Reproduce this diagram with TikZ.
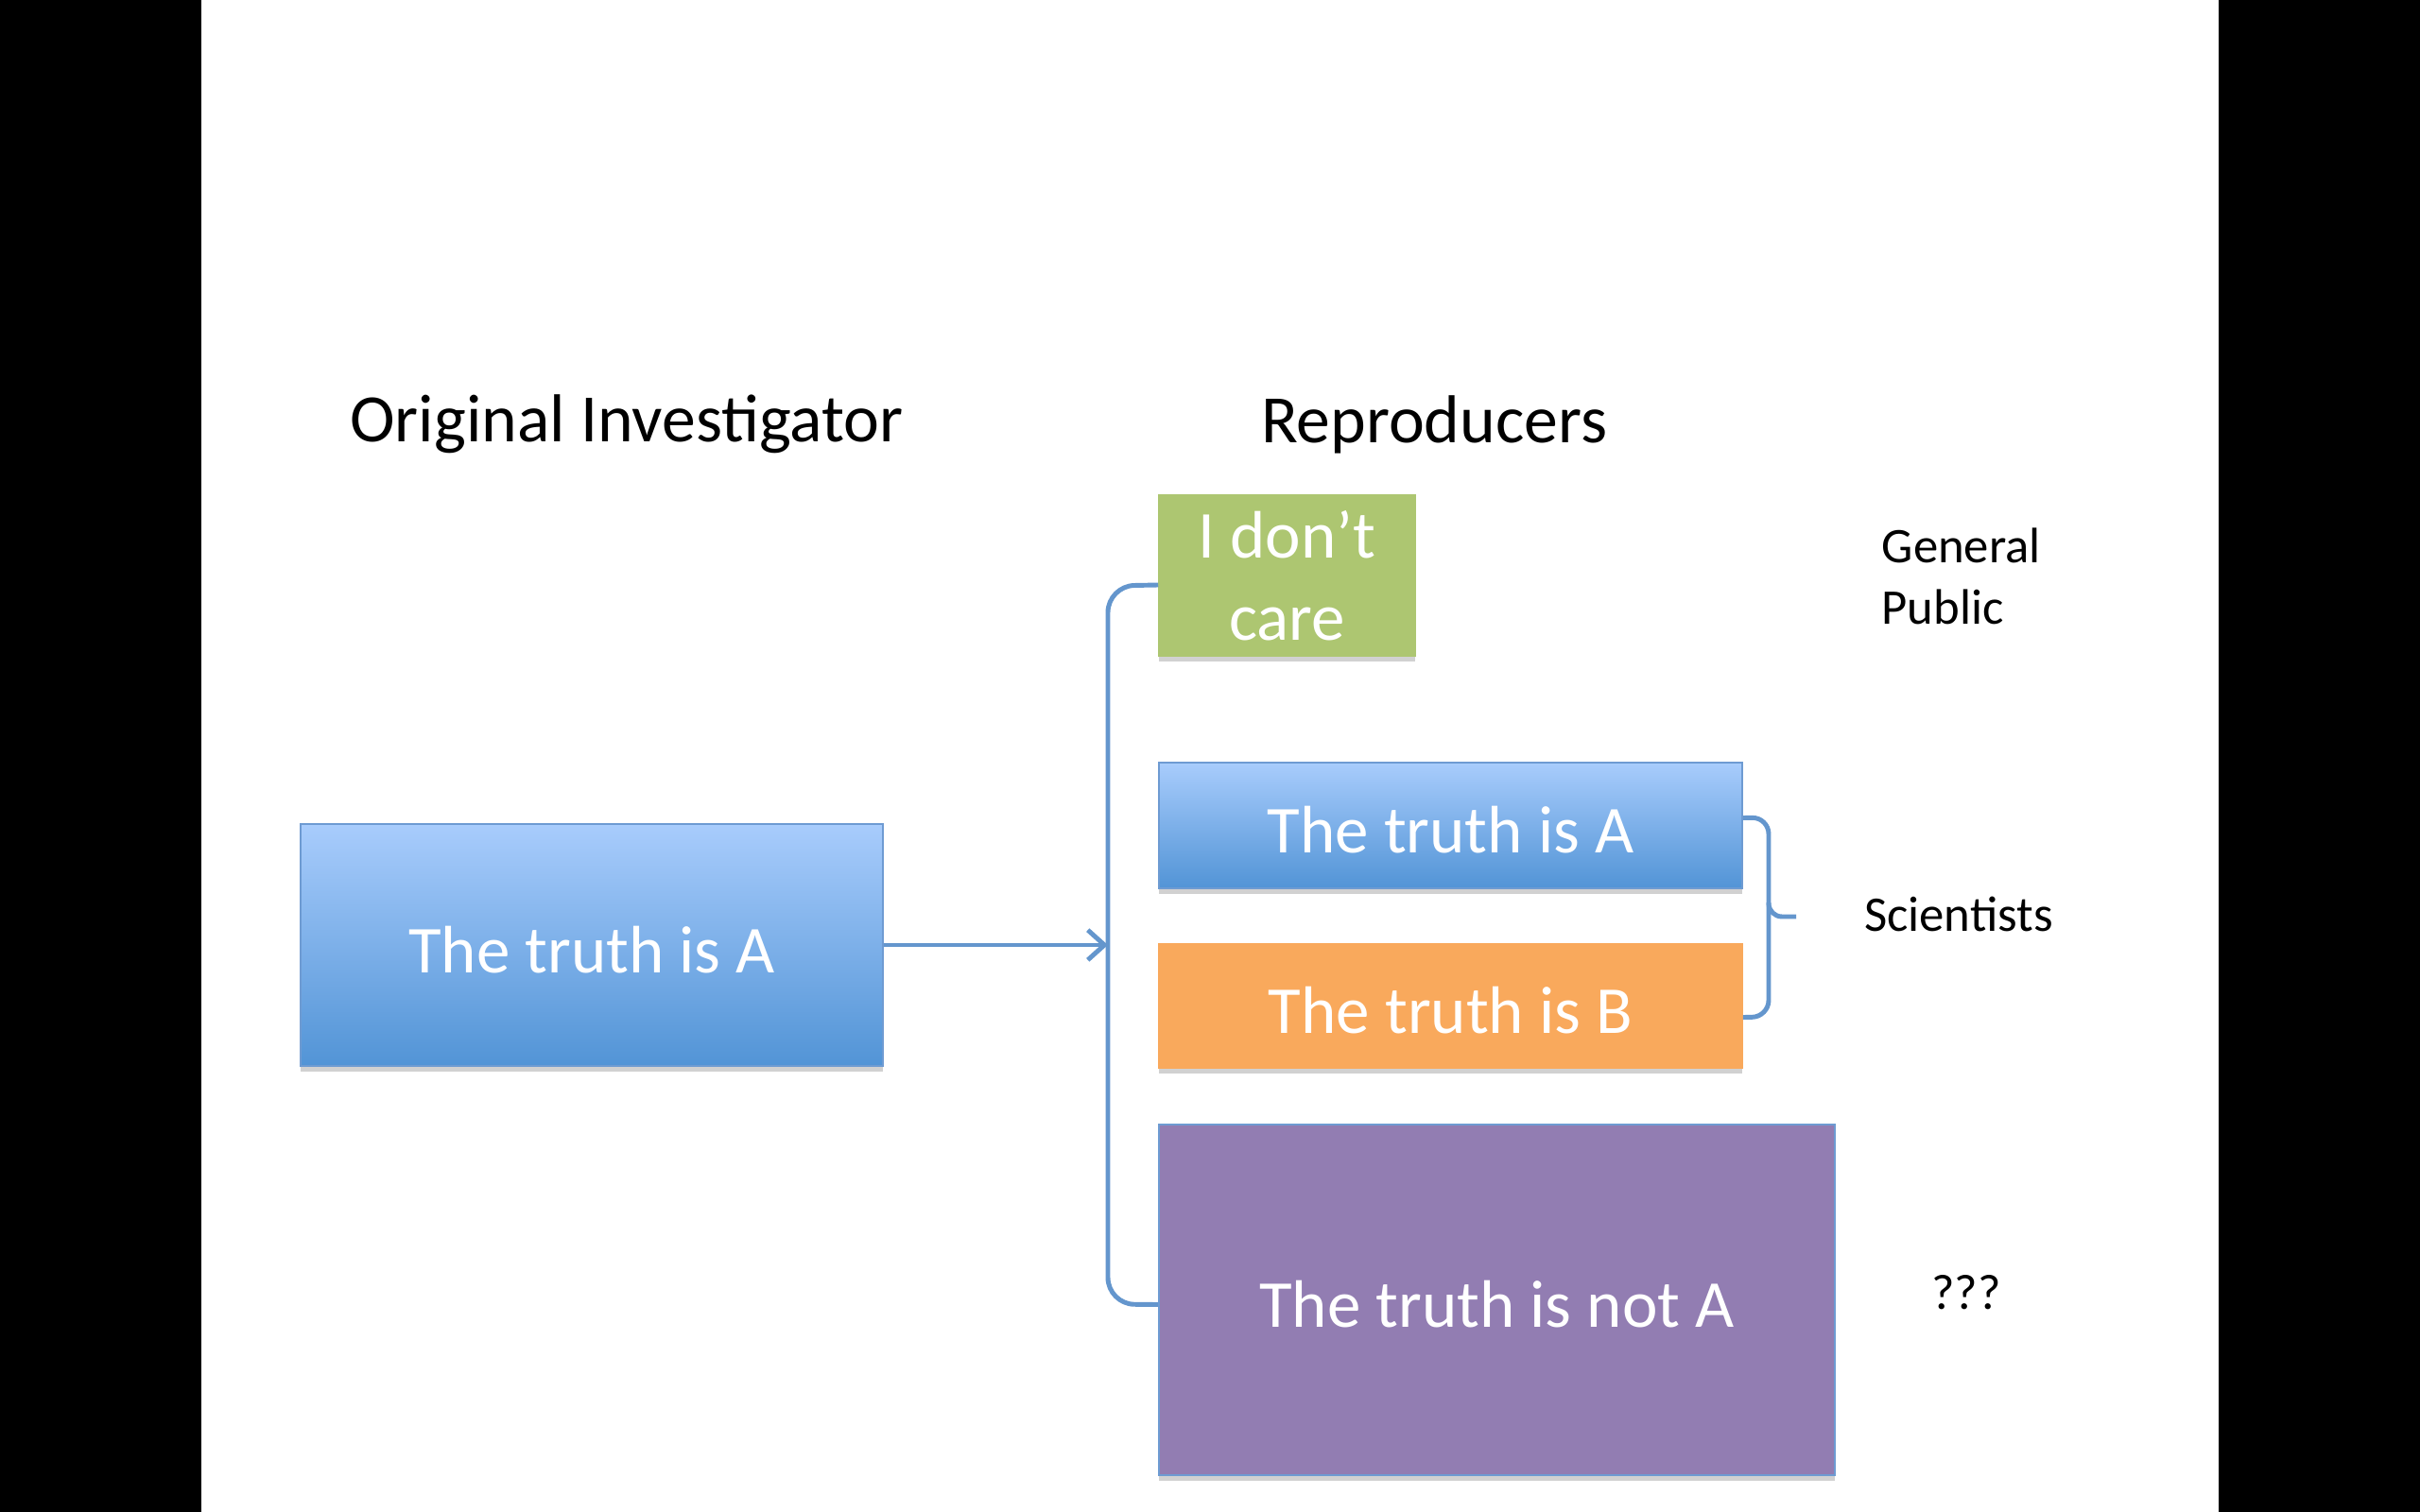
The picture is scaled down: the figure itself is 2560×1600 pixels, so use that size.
\documentclass[tikz,border=0pt]{standalone}
\usepackage{fontspec}
\setmainfont{Carlito}
\usetikzlibrary{arrows.meta,shadows,calc}
\definecolor{bluetop}{RGB}{168,204,252}
\definecolor{bluebot}{RGB}{82,148,214}
\definecolor{blueedge}{RGB}{110,155,210}
\definecolor{conncol}{RGB}{100,150,205}
\definecolor{greenfill}{RGB}{173,198,113}
\definecolor{orangefill}{RGB}{249,169,92}
\definecolor{purplefill}{RGB}{146,125,178}
\tikzset{
  boxbase/.style={rectangle, inner sep=0pt, text=white, align=center,
    font=\fontsize{20.2}{24.6}\selectfont,
    drop shadow={shadow xshift=0pt, shadow yshift=-1.6pt, opacity=0.18, fill=black}},
  oneline/.style={text height=18pt, text depth=1.4pt},
  bluebox/.style={boxbase, top color=bluetop, bottom color=bluebot, draw=blueedge, line width=0.5pt},
  greenbox/.style={boxbase, fill=greenfill, draw=greenfill},
  orangebox/.style={boxbase, fill=orangefill, draw=orangefill},
  purplebox/.style={boxbase, fill=purplefill, draw=blueedge, line width=0.5pt},
  heading/.style={font=\fontsize{20.4}{24.6}\selectfont, text=black, inner sep=0pt},
  sidelabel/.style={font=\fontsize{15}{18.3}\selectfont, text=black, inner sep=0pt, align=left},
  conn/.style={draw=conncol, line width=1.4pt},
}
\begin{document}
\begin{tikzpicture}[x=0.01cm, y=-0.01cm]
\fill[black] (0,0) rectangle (2560,1600);
\fill[white] (213,0) rectangle (2347,1600);
\useasboundingbox (0,0) rectangle (2560,1600);

\node[heading] (hOI) at (663,449) {Original Investigator};
\node[heading] (hRP) at (1517,449) {Reproducers};

\node[bluebox, oneline, minimum width=6.16cm, minimum height=2.56cm] (L) at (626,1000) {The truth is A};
\node[greenbox, minimum width=2.71cm, minimum height=1.70cm] (G) at (1361.5,609) {I don’t\\care};
\node[bluebox, oneline, minimum width=6.17cm, minimum height=1.33cm] (B) at (1534.5,873.5) {The truth is A};
\node[orangebox, oneline, minimum width=6.17cm, minimum height=1.31cm] (O) at (1534.5,1064.5) {The truth is B};
\node[purplebox, oneline, minimum width=7.15cm, minimum height=3.71cm] (P) at (1583.5,1375.5) {The truth is not A};

\node[sidelabel, anchor=west] (gp) at (1990,610) {General\\Public};
\node[sidelabel] (sc) at (2072,967) {Scientists};
\node[sidelabel] (qq) at (2080,1368) {???};

\coordinate (j) at (1172,1000);
\coordinate (jt) at ($(G.west)+(0,10)$);
\coordinate (jb) at ($(P.west)+(0,5)$);
\draw[conn, rounded corners=8pt] (jt) -- (1172,620) -- (1172,1380) -- (jb);
\draw[conn, -{Straight Barb[length=5pt,width=9pt]}] (L.east) -- (j);

\coordinate (bt) at ($(B.east)+(0,-8)$);
\coordinate (bb) at ($(O.east)+(0,12)$);
\draw[conn, rounded corners=5pt] (bt) -- (1871,865) -- (1871,1076) -- (bb);
\coordinate (tip) at (1900,970);
\draw[conn, rounded corners=4pt] (1871,955) -- (1871,970) -- (tip);
\end{tikzpicture}
\end{document}
